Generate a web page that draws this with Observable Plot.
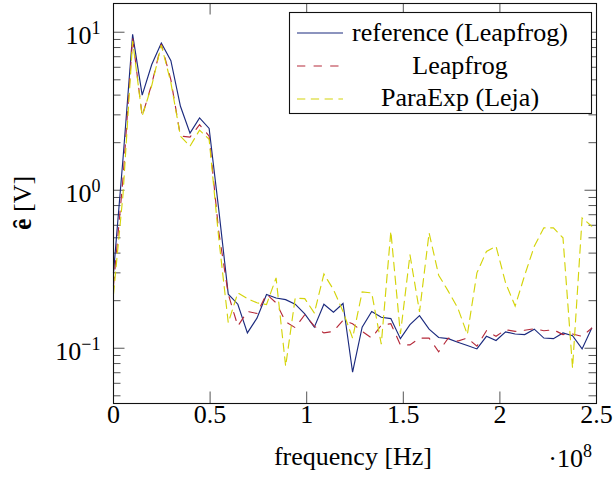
<!DOCTYPE html>
<html>
<head>
<meta charset="utf-8">
<script src="https://cdn.jsdelivr.net/npm/d3@7"></script>
<script src="https://cdn.jsdelivr.net/npm/@observablehq/plot@0.6"></script>
<style>
  body { margin: 0; background: #fff; }
  #chart svg { display: block; background: #fff; }
</style>
</head>
<body>
<div id="chart"></div>
<script>
// ---- data (frequency in MHz; error in V) ----
const freqMHz = [0, 4.95, 9.9, 14.85, 19.8, 24.75, 29.7, 34.65, 39.6, 44.55,
  49.5, 54.45, 59.4, 64.35, 69.3, 74.25, 79.2, 84.15, 89.1, 94.05,
  99, 103.95, 108.9, 113.85, 118.8, 123.75, 128.7, 133.65, 138.6, 143.55,
  148.5, 153.45, 158.4, 163.35, 168.3, 173.25, 178.2, 183.15, 188.1, 193.05,
  198, 202.95, 207.9, 212.85, 217.8, 222.75, 227.7, 232.65, 237.6, 242.55, 247.5];

const reference = [0.30, 1.6, 9.7, 4.0, 6.25, 8.55, 6.6, 3.4, 2.3, 2.87,
  2.46, 0.76, 0.22, 0.19, 0.125, 0.155, 0.219, 0.208, 0.203, 0.19,
  0.165, 0.136, 0.19, 0.169, 0.192, 0.0705, 0.136, 0.171, 0.157, 0.154,
  0.115, 0.141, 0.161, 0.132, 0.117, 0.115, 0.109, 0.104, 0.099, 0.119,
  0.112, 0.127, 0.123, 0.122, 0.132, 0.116, 0.115, 0.125, 0.12, 0.099, 0.134];

const leapfrog = [0.25, 1.2, 9.2, 2.95, 4.7, 8.4, 5.0, 2.2, 2.17, 2.6,
  2.2, 0.55, 0.22, 0.138, 0.171, 0.166, 0.22, 0.194, 0.147, 0.135,
  0.163, 0.138, 0.125, 0.128, 0.15, 0.143, 0.128, 0.116, 0.14, 0.143,
  0.105, 0.105, 0.116, 0.116, 0.095, 0.116, 0.111, 0.116, 0.103, 0.129,
  0.119, 0.131, 0.128, 0.13, 0.133, 0.129, 0.131, 0.122, 0.123, 0.119, 0.134];

const paraexp = [0.22, 0.95, 8.8, 2.95, 4.6, 8.3, 4.8, 2.2, 1.9, 2.4,
  2.1, 0.5, 0.145, 0.224, 0.206, 0.194, 0.189, 0.279, 0.077, 0.208,
  0.206, 0.167, 0.295, 0.235, 0.171, 0.116, 0.227, 0.224, 0.106, 0.55,
  0.123, 0.39, 0.17, 0.537, 0.29, 0.23, 0.18, 0.122, 0.30, 0.41,
  0.442, 0.259, 0.185, 0.29, 0.442, 0.578, 0.578, 0.5, 0.075, 0.668, 0.592];

const seriesNames = ["reference (Leapfrog)", "Leapfrog", "ParaExp (Leja)"];
const seriesColors = ["#1b2a7e", "#b52a3a", "#d4d40a"];
const seriesDash = [null, "8.3 8.3", "8.3 5.5"];

const xTicks = [0, 0.5e8, 1e8, 1.5e8, 2e8, 2.5e8];
const xTickLabels = ["0", "0.5", "1", "1.5", "2", "2.5"];
const yMajor = [0.1, 1, 10];
const yExponents = ["\u22121", "0", "1"];
const yMinor = [0.05, 0.06, 0.07, 0.08, 0.09, 0.2, 0.3, 0.4, 0.5, 0.6, 0.7, 0.8, 0.9,
  2, 3, 4, 5, 6, 7, 8, 9];

const xLabel = "frequency [Hz]";
const xExponentText = "8";

// ---- layout ----
const W = 614, H = 480;
const mL = 113, mR = 18, mT = 3, mB = 77;
const innerW = W - mL - mR, innerH = H - mT - mB;
const FONT = "'Liberation Serif', 'Times New Roman', serif";
const FS = 26;
const majorLen = 11.5, minorLen = 7.5;
const tickColor = "#555";

const rows = freqMHz.map((f, i) => ({f: f * 1e6, ref: reference[i], lf: leapfrog[i], pe: paraexp[i]}));
const keys = ["ref", "lf", "pe"];

const plot = Plot.plot({
  width: W, height: H,
  marginLeft: mL, marginRight: mR, marginTop: mT, marginBottom: mB,
  style: {fontFamily: FONT, fontSize: FS + "px", background: "#fff", color: "#000"},
  x: {domain: [0, 2.5e8], axis: null},
  y: {type: "log", domain: [0.0447, 15.2], axis: null},
  marks: [
    // ticks (inward, all four sides)
    Plot.tickX(xTicks, {x: d => d, insetTop: innerH - majorLen, stroke: tickColor, strokeWidth: 1}),
    Plot.tickX(xTicks, {x: d => d, insetBottom: innerH - majorLen, stroke: tickColor, strokeWidth: 1}),
    Plot.tickY(yMajor, {y: d => d, insetRight: innerW - majorLen, stroke: tickColor, strokeWidth: 1}),
    Plot.tickY(yMajor, {y: d => d, insetLeft: innerW - majorLen, stroke: tickColor, strokeWidth: 1}),
    Plot.tickY(yMinor, {y: d => d, insetRight: innerW - minorLen, stroke: tickColor, strokeWidth: 1}),
    Plot.tickY(yMinor, {y: d => d, insetLeft: innerW - minorLen, stroke: tickColor, strokeWidth: 1}),
    // series
    ...keys.map((k, s) => Plot.line(rows, {
      x: "f", y: k, stroke: seriesColors[s], strokeWidth: 1.15,
      strokeDasharray: seriesDash[s], strokeLinejoin: "miter", strokeMiterlimit: 4
    })),
    Plot.frame({stroke: "#111", strokeWidth: 1.1}),
    // tick labels
    Plot.text(xTicks, {x: d => d, text: (d, i) => xTickLabels[i], frameAnchor: "bottom",
      dy: 19, fontSize: FS, fill: "#000"}),
    Plot.text(yMajor, {y: d => d, text: () => "10", frameAnchor: "left", textAnchor: "end",
      dx: -13, dy: 3, fontSize: FS, fill: "#000"})
  ]
});

document.getElementById("chart").appendChild(plot);
const svg = d3.select(plot);

// superscripts for y tick labels (texts reading "10", in data order)
svg.selectAll("text")
  .filter(function() { return this.textContent === "10"; })
  .each(function(_, i) {
    d3.select(this).append("tspan")
      .attr("dy", "-10px")
      .attr("font-size", "18px")
      .text(yExponents[i]);
  });

// x axis label and exponent
svg.append("text")
  .attr("x", 353).attr("y", 465)
  .attr("text-anchor", "middle")
  .attr("font-family", FONT).attr("font-size", FS)
  .text(xLabel);

const expT = svg.append("text")
  .attr("x", 592).attr("y", 467)
  .attr("text-anchor", "end")
  .attr("font-family", FONT).attr("font-size", FS);
expT.append("tspan").text("\u00b710");
expT.append("tspan").attr("dy", "-10px").attr("font-size", "18px").text(xExponentText);

// y axis label (rotated)
const yl = svg.append("text")
  .attr("transform", "translate(31,203) rotate(-90)")
  .attr("text-anchor", "middle")
  .attr("font-family", FONT).attr("font-size", FS);
yl.append("tspan").attr("font-weight", "bold").text("e\u0311");
yl.append("tspan").text(" [V]");

// legend
const lg = svg.append("g");
lg.append("rect")
  .attr("x", 289.5).attr("y", 12.5).attr("width", 302).attr("height", 101)
  .attr("fill", "#fff").attr("stroke", "#111").attr("stroke-width", 1.1);
const legY = [33, 66, 99];
const legBase = [41, 74, 106];
seriesNames.forEach((name, s) => {
  lg.append("line")
    .attr("x1", 297).attr("x2", 343)
    .attr("y1", legY[s]).attr("y2", legY[s])
    .attr("stroke", seriesColors[s]).attr("stroke-width", 1.15)
    .attr("stroke-dasharray", seriesDash[s]);
  lg.append("text")
    .attr("x", 460).attr("y", legBase[s])
    .attr("text-anchor", "middle")
    .attr("font-family", FONT).attr("font-size", FS)
    .text(name);
});
</script>
</body>
</html>
